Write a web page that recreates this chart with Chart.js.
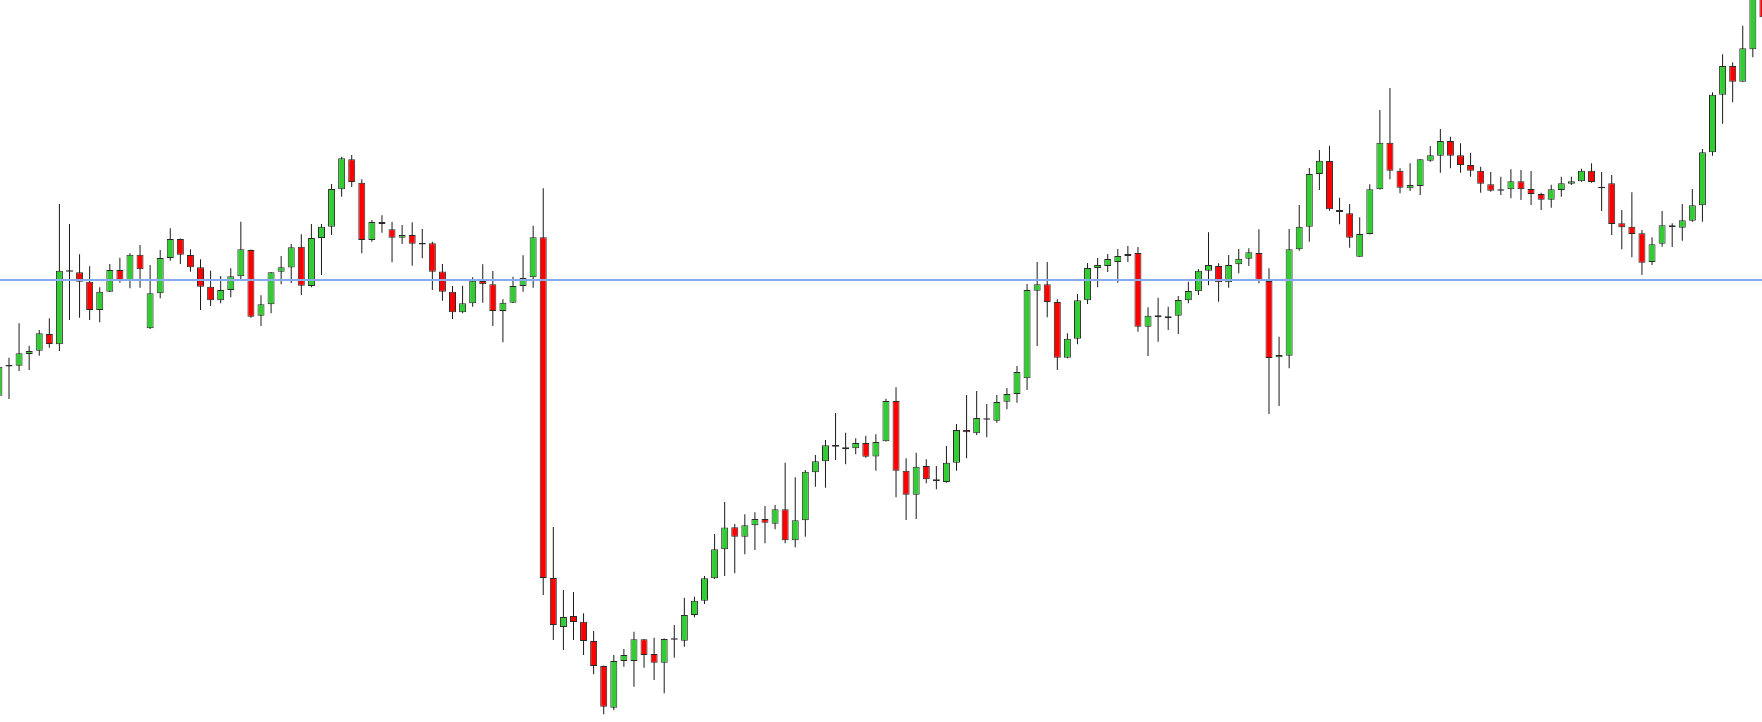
<!DOCTYPE html>
<html><head><meta charset="utf-8">
<script src="https://cdn.jsdelivr.net/npm/chart.js@4.4.1/dist/chart.umd.min.js"></script>
<style>html,body{margin:0;padding:0;background:#fff;overflow:hidden}canvas{display:block}</style>
</head><body>
<canvas id="c" width="1762" height="722"></canvas>
<script>
// Candle values (arbitrary price units), index 0..175
const openP = [326.3,356.3,356.3,368,371.3,388,377.7,451,449.7,440.3,
412,430.3,452,442,467.3,393.7,428.7,464,483,467,
454.7,435.3,421.7,432,445.7,472,406.3,417.7,450.3,454.5,
475.3,436,484,495.3,532.7,562.7,539.3,482,500,492.7,
484.3,487,478.3,478.7,450.5,430.3,409.7,418.7,441,437.7,
411,419.3,436,444.7,484.7,144,95,106,100.3,81,
56,14.3,61,61,82.7,68,59.3,83,81.3,107,
121.3,143.7,172.7,194.7,185.3,196.7,203,198.3,212.7,181.7,
201.7,249.7,260.7,277,274.7,273.7,279,265.5,280.7,321,
251.3,227.3,256,242.7,240,259.3,292,288.7,303,301.3,
320.3,328,343.7,431.3,437.7,420,364.3,383.3,421.7,454,
456,460,466,469,395.3,406.7,403.7,406.3,421.7,430.7,
451.3,456,439.7,457.7,463.3,469,441,364.7,366.3,472.7,
495.3,548,561,512,508.7,465.3,488,532.7,579.3,551.3,
533.7,536,561.3,566.3,581,566.7,557,551.3,537.7,531.3,
532.7,540.7,533,528,522.3,532,538.3,540.7,551.3,533.7,
538.7,498.7,495.3,488.7,460,478.3,496.7,494.3,501.3,516.7,
569.7,627.3,656,640.3,672.7,734];
const highP = [372,364.3,398.7,376.3,392,403.7,518,498,467.7,455.7,
434.7,458,464.3,468.7,477,457,472,493.7,483.5,472.7,
462.7,451.3,446,453.7,500.3,472.5,426.7,450,466,478,
487.7,498,498,538,565.3,567,542.7,502,506.7,500.3,
497,499.7,493,480.3,458,436,436.3,444.7,457.7,451,
422.7,445.3,466.7,496.3,533.7,195,132,130,108.7,91,
56.5,67,73,90.3,83,84.3,83.5,97,124.3,125.3,
146,188,220,198,207.7,209.7,216,217,259.3,244.7,
252,267,282,309,289.3,283.7,286.3,287.7,323.3,334.7,
263.7,269.3,262.7,256,276,298,327,331,318,327,
334,356,438,460,460,422.7,388.7,428,459,464,
468,473,476,475,414.7,424.3,415.3,426,440.3,453,
489.7,458.7,467,473,473.7,492.7,453.7,385.3,493,517,
554,572,576.3,524.3,518,504.7,537.7,612,634,553.7,
558.7,563,576,593,585.3,578.7,569.3,555.3,550,545.3,
552.7,552,551,529.3,537.3,545.3,545.3,553.3,558.7,550,
547,512,529.7,492,484.7,511,498.7,518,533,573,
629.7,667.7,659.7,696.3,747,742];
const lowP = [320,323,351,352,366.3,374.3,371,402,404.3,402,
399.7,430,439.3,433.7,434.3,393,423.7,461.3,458,450.3,
412,416,418.7,424.7,442,404.3,396,408.7,437.7,439,
427,434.7,447,487,525.3,535,468.7,480.3,489.3,459.7,
478,456.3,463.7,432,421.3,403,408.7,415.3,419.3,396,
379.7,419,430.3,434.3,127,82,72,82,67,47.7,
7.7,12,55.3,35.3,54.3,42,28.7,64.3,75.3,104.7,
118,143,146,148.7,167.7,172,178.7,192.7,178.7,174.7,
185.3,235.3,234.3,262,257.7,267.7,264.3,251.3,280.5,224.7,
202,203,238.7,232.7,239.3,251.3,263.7,287,284.7,299.3,
312.7,319.3,332,376,404.7,352,363.7,377.7,418,434.7,
450,439.3,460,390.3,366,380.3,392,388,418.7,427,
436.7,420.3,434.3,448.7,456,438.7,308,316,353.7,471.3,
480.3,532,511.3,497.7,474.3,465,487.5,532.5,542.7,528.7,
531,527,560.3,549.3,553.7,549.3,545.3,529.3,530.3,527,
523.7,522,517,512,514.3,525.3,537,540.3,539.3,511,
487,472.7,464.7,447,457,475.3,475,481.3,500.3,500.3,
566.3,598.3,619.7,640.3,664.7,697];
const closeP = [355.3,356.3,368.7,371,388.7,378,451.3,451,440.3,412,
430.3,452,442,467.3,452.7,428.7,464,483,467.3,454.7,
435.3,421.7,432,445.7,472.7,405.3,417.7,449.7,454.7,474.7,
436.3,484,495.3,533,563.7,540,482,500,498,484.3,
487,478.3,478.3,450.3,430.3,409.7,418.7,441.3,437.7,411,
419.3,436,444,484.7,144,97,105,100,81,56,
15.3,61,67,82.7,67,59.3,83,83,107,121.3,
143.7,172.7,194.5,185.3,196.7,203,199.3,212.7,181.7,201.7,
250.3,260.7,276.7,275.3,272.7,279,265.3,280,321,251.3,
227.3,255.3,242.7,241,259.3,292,289.7,304,303,320,
328,350,432,437.7,420,364.3,383.3,421.7,454,457,
463,466,468,395.3,406.3,404.7,405.7,422,431,451.3,
457,439.7,457,463.3,469.7,441.3,364,367,472.7,495.3,
548,561.3,512.7,510,484.3,488,532.7,579.3,551.3,534.3,
537,562.7,566.7,581,566.3,557,551.3,538.3,531.3,532.7,
540.7,532.7,528,522.3,532.7,538.7,540.7,551.3,540,535.3,
498,494.7,488,459.3,477.7,496.7,495,501.7,516.7,569.7,
627.3,656,640.3,673.7,737,704.7];
const levelLine = 442;   // horizontal level

const idx = openP.map((_, i) => i);
const green = '#32CD32', red = '#FF0000', edge = '#2a2a2a', wickColor = '#1a1a1a';
const bodies = idx.map(i => {
  let a = Math.min(openP[i], closeP[i]), b = Math.max(openP[i], closeP[i]);
  if (b - a < 1.6) { const m = (a + b) / 2; a = m - 0.8; b = m + 0.8; }
  return { x: i, y: [a, b] };
});
const wicks = idx.map(i => ({ x: i, y: [lowP[i], highP[i]] }));
const bodyColors = idx.map(i => closeP[i] > openP[i] ? green : (closeP[i] < openP[i] ? red : edge));

new Chart(document.getElementById('c').getContext('2d'), {
  type: 'bar',
  data: {
    datasets: [
      { type: 'line', data: [{ x: -3, y: levelLine }, { x: 180, y: levelLine }],
        borderColor: 'rgb(135,170,240)', borderWidth: 2, pointRadius: 0, tension: 0, order: 0 },
      { data: bodies, backgroundColor: bodyColors, borderColor: edge, borderWidth: 1,
        borderSkipped: false, barThickness: 7, grouped: false, inflateAmount: 0, order: 1 },
      { data: wicks, backgroundColor: wickColor, borderWidth: 0, barThickness: 1,
        grouped: false, inflateAmount: 0, order: 2 }
    ]
  },
  options: {
    responsive: false, animation: false, devicePixelRatio: 1,
    layout: { padding: 0 },
    plugins: { legend: { display: false }, tooltip: { enabled: false } },
    scales: {
      x: { type: 'linear', min: 0.1071, max: 174.91, display: false, offset: false },
      y: { type: 'linear', min: 0, max: 722, display: false }
    }
  }
});
</script>
</body></html>
